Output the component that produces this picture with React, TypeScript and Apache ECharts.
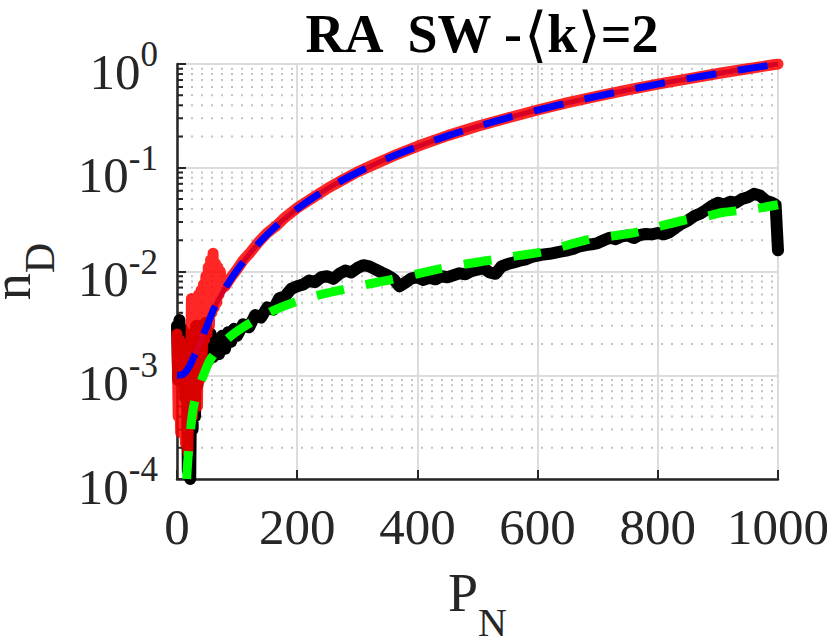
import React, { useEffect, useRef } from "react";
import * as echarts from "echarts";

const FONT = "'Liberation Serif', 'Times New Roman', serif";
const INK = "#262626";

const X_MIN = 0;
const X_MAX = 1000;
const X_STEP = 200;
const Y_MIN = 1e-4;
const Y_MAX = 1;
const MINOR_DECADES = [-4, -3, -2, -1];
const MINOR_MULTIPLIERS = [2, 3, 4, 5, 6, 7, 8, 9];

// RA network: simulation (red) and fit (blue dashed)
const RA_SIM_X = [
  0, 2, 4, 6, 8, 10, 12, 14, 16, 18, 20, 22, 24, 26, 28, 30, 32, 34, 36, 38, 40,
  42, 44, 46, 48, 50, 52, 54, 56, 58, 60, 62, 64, 66, 68, 70, 72, 74, 76, 78, 80,
  90, 100, 110, 120, 135, 150, 165, 180, 200, 225, 250, 275, 300, 330, 360, 400,
  450, 500, 550, 600, 650, 700, 750, 800, 850, 900, 950, 1000,
];
const RA_SIM = [
  0.0025, 0.0004, 0.0022, 0.00028, 0.0018, 0.0003, 0.002, 0.00022, 0.0014, 0.00018,
  0.0012, 0.00035, 0.0055, 0.0004, 0.005, 0.0006, 0.0045, 0.0005, 0.006, 0.0009,
  0.0066, 0.0015, 0.0075, 0.0022, 0.009, 0.0025, 0.011, 0.003, 0.013, 0.004,
  0.015, 0.0045, 0.012, 0.005, 0.011, 0.006, 0.01, 0.0068, 0.0085, 0.0075, 0.0072,
  0.0088, 0.0105, 0.0128, 0.0148, 0.019, 0.0235, 0.0275, 0.0333, 0.041, 0.051,
  0.063, 0.076, 0.091, 0.109, 0.13, 0.161, 0.204, 0.251, 0.302, 0.36, 0.424,
  0.49, 0.563, 0.64, 0.72, 0.81, 0.9, 1.0,
];
const RA_FIT_X = [
  0, 10, 20, 30, 40, 50, 60, 70, 80, 90, 100, 120, 140, 160, 180, 200, 230, 260,
  300, 350, 400, 450, 500, 550, 600, 650, 700, 750, 800, 850, 900, 950, 1000,
];
const RA_FIT = [
  0.001, 0.00102, 0.0012, 0.0016, 0.0022, 0.003, 0.0042, 0.0055, 0.0069, 0.0085,
  0.0103, 0.0146, 0.0198, 0.0258, 0.0326, 0.0402, 0.053, 0.0678, 0.09, 0.123,
  0.16, 0.203, 0.25, 0.303, 0.36, 0.423, 0.49, 0.562, 0.64, 0.722, 0.81, 0.902, 1.0,
];

// SW network: simulation (black) and fit (green dashed)
const SW_SIM_X = [
  0, 2, 4, 6, 8, 10, 12, 14, 16, 18, 20, 22, 24, 26, 28, 30, 32, 34, 36, 38, 40,
  44, 48, 52, 56, 60, 65, 70, 75, 80, 85, 90, 95, 100, 110, 120, 130, 140, 150,
  160, 170, 180, 190, 200, 210, 220, 230, 240, 250, 260, 270, 280, 290, 300, 310,
  320, 330, 340, 350, 360, 370, 380, 390, 400, 410, 420, 430, 440, 450, 460, 470,
  480, 490, 500, 510, 520, 530, 540, 550, 560, 570, 580, 590, 600, 610, 620, 630,
  640, 650, 660, 670, 680, 690, 700, 710, 720, 730, 740, 750, 760, 770, 780, 790,
  800, 810, 820, 830, 840, 850, 860, 870, 880, 890, 900, 910, 920, 930, 940, 950,
  960, 970, 980, 990, 996, 1000,
];
const SW_SIM = [
  0.003, 0.0009, 0.0034, 0.001, 0.0028, 0.0012, 0.002, 0.0006, 0.0025, 0.00012,
  0.002, 0.0001, 0.0018, 0.0003, 0.0025, 0.0004, 0.003, 0.0008, 0.0028, 0.0012,
  0.003, 0.0013, 0.0032, 0.0014, 0.0025, 0.0015, 0.0022, 0.0016, 0.0024, 0.0018,
  0.0026, 0.0021, 0.0028, 0.0024, 0.0031, 0.0029, 0.0038, 0.0036, 0.0045, 0.0043,
  0.0055, 0.0058, 0.0068, 0.0072, 0.0075, 0.0082, 0.0079, 0.0088, 0.009, 0.0085,
  0.0095, 0.0102, 0.0098, 0.0108, 0.0115, 0.0112, 0.0105, 0.0098, 0.0092, 0.0085,
  0.0072, 0.0078, 0.0086, 0.0088, 0.0083, 0.0087, 0.0084, 0.009, 0.0088, 0.0092,
  0.0096, 0.0094, 0.0101, 0.0104, 0.0108, 0.0098, 0.0095, 0.0112, 0.0118, 0.0122,
  0.0127, 0.0131, 0.0138, 0.0142, 0.0146, 0.0148, 0.0152, 0.0156, 0.016, 0.0166,
  0.0175, 0.018, 0.0183, 0.0188, 0.02, 0.0212, 0.0205, 0.0218, 0.0222, 0.021,
  0.0225, 0.023, 0.0228, 0.0235, 0.0228, 0.024, 0.0265, 0.029, 0.031, 0.034,
  0.036, 0.039, 0.043, 0.046, 0.044, 0.047, 0.046, 0.05, 0.052, 0.056, 0.054,
  0.048, 0.046, 0.044, 0.016,
];
const SW_FIT_X = [
  16, 19, 25, 30, 37, 44, 55, 72, 90, 110, 130, 160, 193, 230, 271, 310, 354, 400,
  437, 480, 526, 570, 609, 650, 687, 730, 765, 800, 842, 880, 908, 940, 970, 1000,
];
const SW_FIT = [
  0.0001, 0.00018, 0.0004, 0.00058, 0.00078, 0.001, 0.0014, 0.0019, 0.0024, 0.0029,
  0.0034, 0.0042, 0.005, 0.0058, 0.0066, 0.0074, 0.0083, 0.0095, 0.0106, 0.0118,
  0.013, 0.0143, 0.0155, 0.018, 0.0205, 0.0222, 0.024, 0.027, 0.031, 0.034, 0.037,
  0.039, 0.041, 0.044,
];

function zip(xs: number[], ys: number[]) {
  return xs.map((x, i) => [x, ys[i]]);
}

export default function App() {
  const ref = useRef<HTMLDivElement>(null);
  useEffect(() => {
    const chart = echarts.init(ref.current!, null, { renderer: "svg" });
    const minorValues = MINOR_DECADES.flatMap((d) =>
      MINOR_MULTIPLIERS.map((m) => m * Math.pow(10, d))
    );
    const lineBase = {
      type: "line",
      showSymbol: false,
      symbol: "none",
      silent: true,
      emphasis: { disabled: true },
    };
    chart.setOption({
      animation: false,
      backgroundColor: "#ffffff",
      title: {
        text: "{b|RA  SW -}{a|⟨}{b|k}{a|⟩}{b|=2}",
        left: 476,
        top: 0,
        textAlign: "center",
        textStyle: {
          rich: {
            b: { fontFamily: FONT, fontWeight: "bold", fontSize: 54, color: "#000", lineHeight: 58 },
            a: { fontFamily: "'DejaVu Sans', sans-serif", fontWeight: "normal", fontSize: 60, color: "#000", lineHeight: 58 },
          },
        },
      },
      grid: {
        left: 177,
        top: 64,
        right: 52,
        bottom: 165,
        containLabel: false,
        outerBoundsMode: "none",
      },
      xAxis: {
        type: "value",
        min: X_MIN,
        max: X_MAX,
        interval: X_STEP,
        name: "{b|P}{s|N}",
        nameLocation: "middle",
        nameGap: 87,
        nameTextStyle: {
          rich: {
            b: { fontFamily: FONT, fontSize: 54, color: INK, lineHeight: 76, verticalAlign: "top" },
            s: { fontFamily: FONT, fontSize: 40, color: INK, lineHeight: 45, verticalAlign: "bottom" },
          },
        },
        axisLine: { show: true, onZero: false, lineStyle: { color: INK, width: 2.5 } },
        axisTick: { show: true, inside: true, length: 9, lineStyle: { color: INK, width: 2 } },
        axisLabel: {
          fontFamily: FONT,
          fontSize: 51,
          color: INK,
          lineHeight: 51,
          margin: 22,
          formatter: (v: number) => String(v),
        },
        splitLine: { show: true, lineStyle: { color: "#dcdcdc", width: 2 } },
      },
      yAxis: {
        type: "log",
        logBase: 10,
        min: Y_MIN,
        max: Y_MAX,
        name: "{b|n}{s|D}",
        nameLocation: "middle",
        nameRotate: 90,
        nameGap: 116,
        nameTextStyle: {
          rich: {
            b: { fontFamily: FONT, fontSize: 54, color: INK, lineHeight: 76, verticalAlign: "top" },
            s: { fontFamily: FONT, fontSize: 42, color: INK, lineHeight: 45, verticalAlign: "bottom" },
          },
        },
        axisLine: { show: true, lineStyle: { color: INK, width: 2.5 } },
        axisTick: { show: true, inside: true, length: 9, lineStyle: { color: INK, width: 2 } },
        axisLabel: {
          margin: 19,
          padding: [6, 0, 0, 0],
          formatter: (v: number) => `{b|10}{s|${Math.round(Math.log10(v))}}`,
          rich: {
            b: { fontFamily: FONT, fontSize: 51, color: INK, lineHeight: 60, verticalAlign: "bottom" },
            s: { fontFamily: FONT, fontSize: 35, color: INK, lineHeight: 35, verticalAlign: "top" },
          },
        },
        splitLine: { show: true, lineStyle: { color: "#dcdcdc", width: 2 } },
      },
      series: [
        {
          type: "custom",
          silent: true,
          z: 1,
          data: minorValues.map((v) => [X_MIN, v]),
          renderItem: (_params: any, api: any) => {
            const v = api.value(1);
            const p0 = api.coord([X_MIN, v]);
            const p1 = api.coord([X_MAX, v]);
            return {
              type: "group",
              children: [
                {
                  type: "line",
                  shape: { x1: p0[0] + 4, y1: p0[1], x2: p1[0], y2: p1[1] },
                  style: { stroke: "#c2c2c2", lineWidth: 2, lineDash: [2, 8] },
                },
                {
                  type: "line",
                  shape: { x1: p0[0], y1: p0[1], x2: p0[0] + 6, y2: p0[1] },
                  style: { stroke: INK, lineWidth: 2 },
                },
              ],
            };
          },
        },
        {
          ...lineBase,
          z: 2,
          data: zip(SW_SIM_X, SW_SIM),
          lineStyle: { color: "#000000", width: 12, join: "round", cap: "round" },
        },
        {
          ...lineBase,
          z: 3,
          smooth: 0.3,
          data: zip(RA_FIT_X, RA_FIT),
          lineStyle: { color: "#0000ff", width: 5 },
        },
        {
          ...lineBase,
          z: 4,
          data: zip(RA_SIM_X, RA_SIM),
          lineStyle: { color: "#ff0000", opacity: 0.85, width: 11, join: "round", cap: "round" },
        },
        {
          ...lineBase,
          z: 5,
          smooth: 0.3,
          data: zip(SW_FIT_X, SW_FIT),
          lineStyle: { color: "#00ff00", width: 9, type: [28, 22], cap: "butt" },
        },
        {
          ...lineBase,
          z: 6,
          smooth: 0.3,
          data: zip(RA_FIT_X, RA_FIT),
          lineStyle: { color: "#0000ff", width: 7, type: [30, 22], cap: "butt" },
        },
      ],
    });
    return () => chart.dispose();
  }, []);
  return (
    <div
      ref={ref}
      style={{ position: "fixed", left: 0, top: 0, width: 830, height: 644 }}
    />
  );
}
